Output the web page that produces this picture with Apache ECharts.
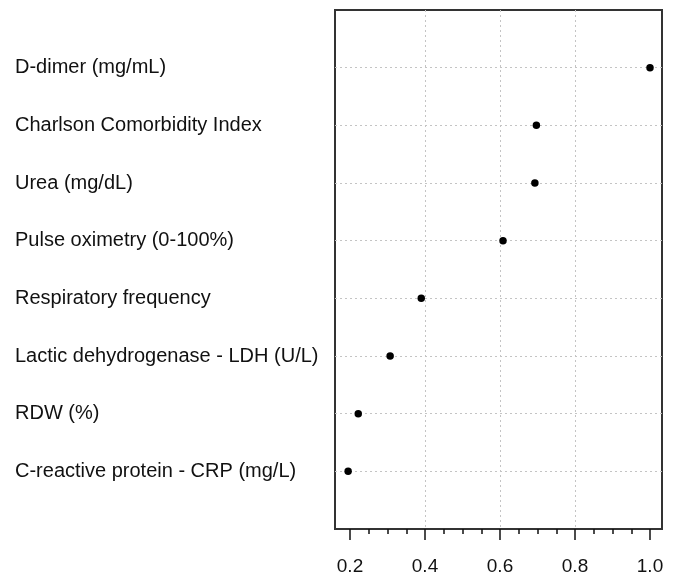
<!DOCTYPE html>
<html>
<head>
<meta charset="utf-8">
<script src="https://cdn.jsdelivr.net/npm/echarts@6/dist/echarts.min.js"></script>
<style>
  html, body { margin: 0; padding: 0; background: #fff; }
  #chart { width: 678px; height: 577px; }
</style>
</head>
<body>
<div id="chart"></div>
<script>
// variables listed bottom to top (dotchart order)
const names = [
  'C-reactive protein - CRP (mg/L)',
  'RDW (%)',
  'Lactic dehydrogenase - LDH (U/L)',
  'Respiratory frequency',
  'Pulse oximetry (0-100%)',
  'Urea (mg/dL)',
  'Charlson Comorbidity Index',
  'D-dimer (mg/mL)'
]
const importance = [0.195, 0.222, 0.307, 0.39, 0.608, 0.693, 0.697, 1.0]
const xTicks = [0.2, 0.4, 0.6, 0.8, 1.0]
const xMinorTicks = [0.25, 0.3, 0.35, 0.45, 0.5, 0.55, 0.65, 0.7, 0.75, 0.85, 0.9, 0.95]
const xRange = [0.16, 1.032]

const chart = echarts.init(document.getElementById('chart'))
const gridLine = {
  show: true, showMinLine: false, showMaxLine: false,
  lineStyle: { color: '#c4c4c4', type: [2, 3], width: 1 }
}

chart.setOption({
  animation: false,
  grid: {
    left: 335, top: 10, right: 16, bottom: 48,
    show: true, borderColor: '#333', borderWidth: 2, backgroundColor: 'transparent'
  },
  xAxis: [
    {
      type: 'value', min: xRange[0], max: xRange[1],
      axisLine: { show: false },
      axisTick: { show: true, customValues: xTicks, length: 11, lineStyle: { color: '#111', width: 1.5 } },
      axisLabel: {
        customValues: xTicks, margin: 28, fontSize: 19, color: '#111',
        fontFamily: 'Liberation Sans, Arial, sans-serif',
        formatter: (v) => v.toFixed(1)
      },
      splitLine: gridLine
    },
    {
      type: 'value', min: xRange[0], max: xRange[1], position: 'bottom',
      axisLine: { show: false },
      axisTick: { show: true, customValues: xMinorTicks, length: 5, lineStyle: { color: '#111', width: 1.5 } },
      axisLabel: { show: false },
      splitLine: { show: false }
    }
  ],
  yAxis: {
    type: 'value', min: 0, max: names.length + 1, interval: 1,
    axisLine: { show: false },
    axisTick: { show: false },
    axisLabel: {
      align: 'left', margin: 320, fontSize: 20, color: '#111',
      fontFamily: 'Liberation Sans, Arial, sans-serif',
      formatter: (v) => names[v - 1] || ''
    },
    splitLine: gridLine
  },
  series: [{
    type: 'scatter',
    xAxisIndex: 0,
    symbol: 'circle',
    symbolSize: 7.5,
    itemStyle: { color: '#000', opacity: 1 },
    data: importance.map((v, i) => [v, i + 1])
  }]
})
</script>
</body>
</html>
